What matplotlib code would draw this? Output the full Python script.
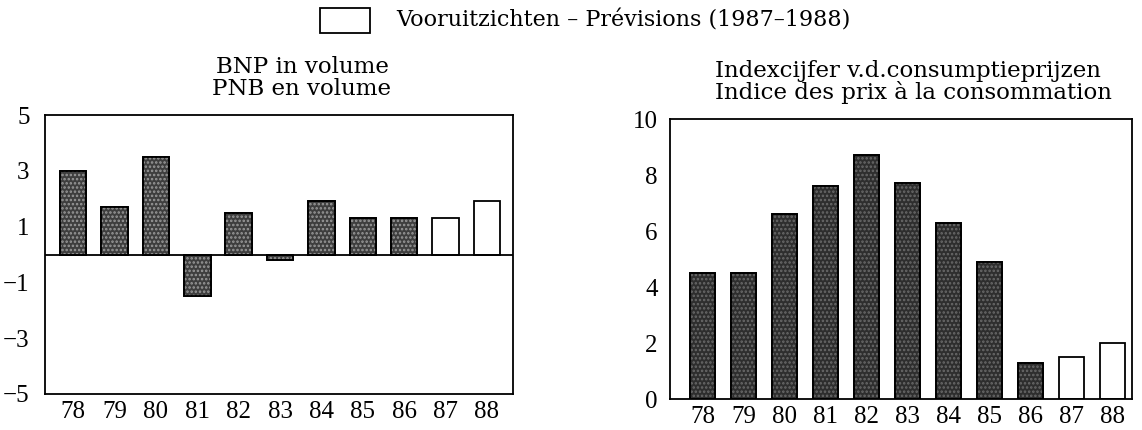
import matplotlib.pyplot as plt
import numpy as np

plt.rcParams['font.family'] = ['Liberation Serif', 'DejaVu Serif']
plt.rcParams['hatch.linewidth'] = 1.2

years = ['78', '79', '80', '81', '82', '83', '84', '85', '86', '87', '88']
bnp = [3.0, 1.7, 3.5, -1.5, 1.5, -0.2, 1.9, 1.3, 1.3, 1.3, 1.9]
prices = [4.5, 4.5, 6.6, 7.6, 8.7, 7.7, 6.3, 4.9, 1.3, 1.5, 2.0]
forecast = [False] * 9 + [True, True]

W, H = 1142, 430
fig = plt.figure(figsize=(W / 100, H / 100), dpi=100)

def box(x0, y0, x1, y1):
    return [x0 / W, 1 - y1 / H, (x1 - x0) / W, (y1 - y0) / H]

ax1 = fig.add_axes(box(45, 115, 513, 394))
ax2 = fig.add_axes(box(670, 119, 1132, 399))

def draw(ax, vals, width, dark, dots):
    x = np.arange(len(vals))
    for xi, v, f in zip(x, vals, forecast):
        if f:
            ax.bar(xi, v, width, color='white', edgecolor='black', linewidth=1.3, zorder=2)
        else:
            ax.bar(xi, v, width, color=dark, edgecolor='black', linewidth=1.3, zorder=2)
            ax.bar(xi, v, width, color='none', edgecolor=dots, hatch='....',
                   linewidth=0, zorder=3)
            ax.bar(xi, v, width, color='none', edgecolor='black', linewidth=1.3, zorder=4)
    ax.set_xticks(x)
    ax.set_xticklabels(years)
    ax.tick_params(length=0, labelsize=18, pad=5)
    for s in ax.spines.values():
        s.set_linewidth(1.3)

draw(ax1, bnp, 0.64, '#3e3e3e', '#9a9a9a')
ax1.set_xlim(-0.68, 10.63)
ax1.set_ylim(-5, 5)
ax1.set_yticks([5, 3, 1, -1, -3, -5])
ax1.set_yticklabels(['5', '3', '1', '\u22121', '\u22123', '\u22125'])
ax1.axhline(0, color='black', linewidth=1.3, zorder=5)
ax1.tick_params(axis='y', pad=11)

draw(ax2, prices, 0.61, '#2e2e2e', '#6a6a6a')
ax2.set_xlim(-0.79, 10.48)
ax2.set_ylim(0, 10)
ax2.set_yticks([0, 2, 4, 6, 8, 10])
ax2.tick_params(axis='y', pad=9)

tf = dict(family=['DejaVu Serif'], fontsize=16.5)
fig.text(302 / W, 1 - 67 / H, 'BNP in volume', ha='center', va='center', **tf)
fig.text(302 / W, 1 - 89 / H, 'PNB en volume', ha='center', va='center', **tf)
fig.text(715 / W, 1 - 71 / H, 'Indexcijfer v.d.consumptieprijzen', ha='left', va='center', **tf)
fig.text(715 / W, 1 - 92 / H, 'Indice des prix \u00e0 la consommation', ha='left', va='center', **tf)

fig.patches.append(plt.Rectangle((320 / W, 1 - 33 / H), 50 / W, 25 / H, transform=fig.transFigure,
                                 facecolor='white', edgecolor='black', linewidth=1.3))
fig.text(396 / W, 1 - 21 / H, 'Vooruitzichten \u2013 Pr\u00e9visions (1987\u20131988)',
         ha='left', va='center', family=['DejaVu Serif'], fontsize=16)

fig.savefig('out.png', dpi=100)
